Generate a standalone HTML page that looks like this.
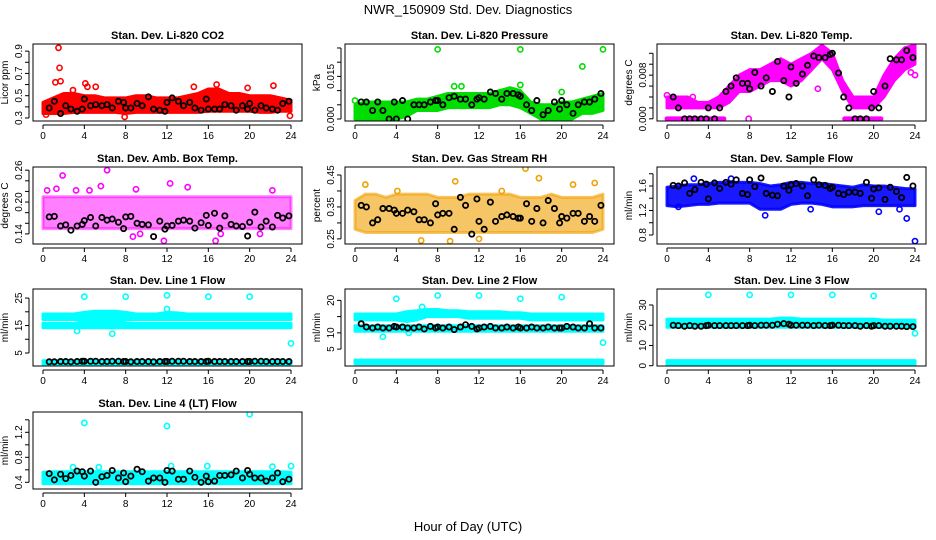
<!DOCTYPE html>
<html><head><meta charset="utf-8"><style>
body{margin:0;background:#fff;}
svg{display:block;font-family:"Liberation Sans",sans-serif;}
</style></head><body>
<svg id="chart" width="936" height="540" viewBox="0 0 936 540" xmlns="http://www.w3.org/2000/svg">
<rect width="936" height="540" fill="#fff"/>
<text x="468" y="14" text-anchor="middle" font-size="13">NWR_150909  Std. Dev. Diagnostics</text>
<text x="468" y="531" text-anchor="middle" font-size="13">Hour of Day (UTC)</text>
</svg>
<script>
const blackTimes=[0.6,1.1,1.7,2.2,2.7,3.3,3.8,4.0,4.6,5.1,5.7,6.2,6.7,7.3,7.8,8.0,8.5,9.1,9.6,10.2,10.7,11.3,11.8,12.0,12.5,13.1,13.6,14.2,14.7,15.3,15.8,16.0,16.6,17.1,17.6,18.2,18.7,19.3,19.8,20.0,20.5,21.1,21.6,22.2,22.7,23.2,23.8];
const xTicks=[0,4,8,12,16,20,24];

const co2Lo=[0.34,0.34,0.34,0.35,0.35,0.35,0.35,0.35,0.34,0.35,0.35,0.35,0.35,0.35,0.35,0.35,0.36,0.36,0.36,0.36,0.36,0.35,0.35,0.36,0.36];
const co2Hi=[0.44,0.48,0.52,0.52,0.50,0.50,0.48,0.48,0.48,0.50,0.50,0.48,0.48,0.48,0.50,0.52,0.56,0.56,0.52,0.52,0.50,0.50,0.50,0.48,0.46];
const co2Out=[[1.5,0.93],[1.6,0.75],[1.7,0.63],[1.2,0.62],[4.1,0.61],[4.3,0.58],[5.1,0.58],[14.6,0.58],[16.8,0.60],[22.3,0.59],[7.9,0.31],[23.9,0.32],[2.9,0.55],[19.8,0.57],[0.3,0.33]];
const co2Black=[0.39,0.45,0.34,0.41,0.38,0.36,0.38,0.47,0.41,0.42,0.41,0.42,0.39,0.45,0.44,0.39,0.39,0.43,0.41,0.49,0.38,0.37,0.36,0.44,0.48,0.45,0.41,0.44,0.39,0.37,0.47,0.38,0.38,0.38,0.42,0.41,0.37,0.41,0.38,0.43,0.37,0.41,0.39,0.38,0.37,0.43,0.45];
const prLo=[0,0,0,0,0,0.001,0.003,0.003,0.003,0.004,0.004,0.004,0.004,0.004,0.005,0.005,0.004,0.002,0,0,0,0,0.002,0.002,0.003];
const prHi=[0.005,0.006,0.006,0.006,0.006,0.006,0.007,0.007,0.008,0.009,0.009,0.009,0.009,0.009,0.010,0.011,0.010,0.006,0.005,0.005,0.006,0.006,0.007,0.008,0.009];
const prOut=[[8,0.0245],[16,0.0245],[24,0.0245],[22,0.0185],[16,0.012],[9.6,0.0115],[10.3,0.0115],[20,0.0095],[0,0.0065]];
const prBlack=[0.006,0.006,0.003,0.006,0.003,0,0.006,0,0.0065,0,0.005,0.005,0.005,0.006,0.0065,0.0065,0.005,0.0075,0.008,0.007,0.007,0.005,0.007,0.0075,0.007,0.0095,0.009,0.007,0.009,0.009,0.0085,0.008,0.005,0.003,0.0065,0.0015,0.003,0.006,0.0035,0.0065,0.005,0.002,0.005,0.006,0.006,0.007,0.009];
const tLo=[0.002,0.002,0.002,0.002,0.002,0.002,0.003,0.005,0.005,0.006,0.007,0.007,0.006,0.007,0.009,0.011,0.009,0.005,0.002,0.002,0.002,0.004,0.007,0.009,0.010];
const tHi=[0.004,0.004,0.004,0.003,0.003,0.004,0.006,0.008,0.009,0.009,0.010,0.011,0.010,0.011,0.012,0.0135,0.012,0.007,0.004,0.004,0.004,0.008,0.011,0.013,0.0135];
const tZeroSeg=[[0,5.5],[17.2,20.7]];
const tOut=[[0,0.0043],[2.5,0.004],[7.9,0],[14.6,0.0055],[23.6,0.0085],[24,0.008]];
const tBlack=[0.004,0.002,0,0,0,0,0,0.002,0,0.002,0.005,0.006,0.0075,0.0065,0.0065,0.0055,0.0085,0.006,0.0075,0.005,0.0105,0.007,0.004,0.0095,0.0065,0.0082,0.0098,0.0115,0.0112,0.0112,0.0118,0.0120,0.0084,0.004,0.002,0,0,0,0.002,0.005,0.002,0.006,0.011,0.0108,0.0108,0.0125,0.0112];
const abLo=[0.15,0.15,0.15,0.15,0.15,0.15,0.15,0.15,0.15,0.15,0.15,0.15,0.15,0.15,0.15,0.15,0.15,0.15,0.15,0.15,0.15,0.15,0.15,0.15,0.15];
const abHi=[0.21,0.21,0.21,0.21,0.21,0.21,0.21,0.21,0.21,0.21,0.21,0.21,0.21,0.21,0.21,0.21,0.21,0.21,0.21,0.21,0.21,0.21,0.21,0.21,0.21];
const abOut=[[1.9,0.25],[6.2,0.26],[12.3,0.235],[5.6,0.23],[14,0.228],[8.7,0.135],[9.4,0.14],[11.7,0.127],[16.7,0.127],[17.2,0.14],[21,0.14],[22.2,0.222],[0.4,0.222],[3.2,0.222],[1.3,0.225],[4.5,0.222],[9,0.224]];
const abBlack=[0.172,0.173,0.155,0.157,0.147,0.155,0.158,0.165,0.171,0.155,0.171,0.166,0.168,0.162,0.150,0.172,0.173,0.160,0.158,0.157,0.135,0.164,0.149,0.155,0.156,0.164,0.166,0.164,0.151,0.161,0.175,0.156,0.179,0.151,0.174,0.158,0.155,0.154,0.136,0.162,0.181,0.153,0.164,0.153,0.175,0.170,0.174];
const rhLo=[0.28,0.27,0.27,0.27,0.27,0.27,0.27,0.27,0.27,0.27,0.27,0.27,0.27,0.27,0.27,0.27,0.27,0.27,0.27,0.27,0.27,0.27,0.27,0.27,0.28];
const rhHi=[0.37,0.39,0.39,0.38,0.39,0.39,0.39,0.39,0.38,0.38,0.38,0.39,0.39,0.39,0.39,0.39,0.38,0.38,0.38,0.39,0.38,0.38,0.38,0.38,0.39];
const rhOut=[[1.0,0.42],[9.7,0.43],[16.5,0.47],[17.8,0.44],[21.1,0.42],[23.2,0.425],[6.4,0.245],[9.2,0.243],[12,0.25],[4.1,0.40],[14.2,0.40]];
const rhBlack=[0.355,0.35,0.30,0.31,0.345,0.345,0.34,0.33,0.33,0.34,0.335,0.31,0.31,0.30,0.36,0.325,0.33,0.33,0.28,0.38,0.355,0.265,0.375,0.305,0.28,0.365,0.305,0.32,0.325,0.32,0.315,0.315,0.36,0.305,0.345,0.30,0.37,0.345,0.30,0.32,0.315,0.33,0.33,0.305,0.32,0.305,0.355];
const sfLo=[1.28,1.26,1.28,1.30,1.30,1.32,1.32,1.32,1.32,1.22,1.22,1.22,1.30,1.32,1.32,1.30,1.26,1.26,1.26,1.28,1.28,1.28,1.28,1.28,1.28];
const sfHi=[1.58,1.60,1.62,1.62,1.64,1.66,1.66,1.66,1.66,1.64,1.60,1.62,1.66,1.66,1.64,1.64,1.62,1.60,1.58,1.62,1.60,1.60,1.58,1.56,1.55];
const sfOut=[[9.5,1.12],[23.2,1.07],[24,0.70],[2.6,1.72],[6.2,1.72],[20.5,1.18],[13.9,1.22],[22.5,1.22],[1.1,1.26]];
const sfBlack=[1.61,1.60,1.65,1.48,1.54,1.66,1.63,1.39,1.65,1.56,1.66,1.63,1.70,1.48,1.46,1.70,1.59,1.73,1.48,1.45,1.44,1.60,1.53,1.62,1.64,1.60,1.44,1.70,1.62,1.61,1.56,1.58,1.48,1.46,1.50,1.50,1.48,1.66,1.40,1.55,1.57,1.38,1.58,1.51,1.41,1.74,1.60];
const l1aLo=[14.2,14.2,14.2,14.2,14.2,14.2,14.2,14.2,14.2,14.2,14.2,14.2,14.2,14.2,14.2,14.2,14.2,14.2,14.2,14.2,14.2,14.2,14.2,14.2,14.2];
const l1aHi=[15.8,15.8,15.8,15.8,16,16,16.2,16.5,16,15.8,15.8,15.8,15.8,15.8,15.8,15.8,15.8,15.8,15.8,15.8,15.8,15.8,15.8,15.8,15.8];
const l1bLo=[17.2,17.2,17.2,17.2,16.8,16.8,17.2,17.2,17.2,17.2,17.2,17.2,17.2,17.2,17.2,17.2,17.2,17.2,17.2,17.2,17.2,17.2,17.2,17.2,17.2];
const l1bHi=[19.2,19.2,19.2,19.2,19.8,20.2,20.2,20.2,19.8,19.2,19.2,19.2,19.8,19.6,19.2,19.2,19.2,19.2,19.2,19.2,19.2,19.2,19.2,19.2,19.2];
const l1cLo=[1,1,1,1,1,1,1,1,1,1,1,1,1,1,1,1,1,1,1,1,1,1,1,1,1];
const l1cHi=[2.2,2.2,2.2,2.2,2.2,2.2,2.2,2.2,2.2,2.2,2.2,2.2,2.2,2.2,2.2,2.2,2.2,2.2,2.2,2.2,2.2,2.2,2.2,2.2,2.2];
const l1Out=[[4,25.5],[8,25.5],[12,26],[16,25.5],[20,25.5],[24,8.5],[6.7,12],[3.3,13],[12,21]];
const l1Black=[1.8,1.8,1.9,1.9,1.8,1.9,2.0,2.0,2.0,2.0,1.9,1.9,2.0,2.0,1.9,1.9,1.8,1.9,1.9,1.9,1.8,1.9,1.9,1.9,2.0,2.0,2.0,1.9,1.9,1.9,1.9,2.0,1.9,1.9,1.9,1.9,1.9,1.9,1.9,1.9,2.0,2.0,1.9,1.9,1.9,1.9,1.9];
const l2aLo=[14,14,14,14,14,13.5,14,15,15,15,15,14.5,14.5,14.5,14.5,14.5,14.5,14,14,14,14,14,14,14,14];
const l2aHi=[15.8,15.8,15.8,15.8,15.8,16.5,16.8,17.2,17.2,16.8,16.8,16.5,16.5,16.5,16.5,16.2,16.2,15.8,15.8,15.8,15.8,15.8,15.8,15.8,15.8];
const l2bLo=[10.5,10.5,10.5,10.5,10.5,10.5,10.5,10.5,10.5,10.5,10.5,10.5,10.5,10.5,10.5,10.5,10.5,10.5,10.5,10.5,10.5,10.5,10.5,10.5,10.5];
const l2bHi=[12.2,12.2,12.2,12.2,12.2,12.2,12.2,12.2,12.2,12.2,12.2,12.2,12.2,12.2,12.2,12.2,12.2,12.2,12.2,12.2,12.2,12.2,12.2,12.2,12.2];
const l2cLo=[0.5,0.5,0.5,0.5,0.5,0.5,0.5,0.5,0.5,0.5,0.5,0.5,0.5,0.5,0.5,0.5,0.5,0.5,0.5,0.5,0.5,0.5,0.5,0.5,0.5];
const l2cHi=[1.6,1.6,1.6,1.6,1.6,1.6,1.6,1.6,1.6,1.6,1.6,1.6,1.6,1.6,1.6,1.6,1.6,1.6,1.6,1.6,1.6,1.6,1.6,1.6,1.6];
const l2Out=[[4,20.5],[8,21.5],[12,21.5],[16,20.5],[20,21],[24,7],[2.7,8.8],[5.2,10],[6.5,18]];
const l2Black=[12.8,11.8,11.5,11.8,11.5,11.5,12,11.8,11.8,11.5,11.5,11.8,11.2,12,11.5,11.8,11.5,11.8,11,11.8,12.5,12,11.2,11.5,11.8,12,11.5,11.5,11.8,11.5,11.8,11.5,11.5,11.8,11.5,11.5,11.8,11.5,11.5,11.5,12,11.8,11.5,11.5,12.8,11.5,11.5];
const l3aLo=[19,19,19,19,19,19,19,19,19,19,19,19,19,19,19,19,19,19,19,19,19,19,19,19,19];
const l3aHi=[23,23,23,23,23,23,23,23,23,23,23,23.5,23.5,23,23,23,23,23,23,23,23,22.5,22.5,22.5,22.5];
const l3cLo=[0.5,0.5,0.5,0.5,0.5,0.5,0.5,0.5,0.5,0.5,0.5,0.5,0.5,0.5,0.5,0.5,0.5,0.5,0.5,0.5,0.5,0.5,0.5,0.5,0.5];
const l3cHi=[2.5,2.5,2.5,2.5,2.5,2.5,2.5,2.5,2.5,2.5,2.5,2.5,2.5,2.5,2.5,2.5,2.5,2.5,2.5,2.5,2.5,2.5,2.5,2.5,2.5];
const l3Out=[[4,35],[8,35],[12,35],[16,35],[20,34.5],[24,16]];
const l3Black=[20,19.8,19.5,19.8,19.5,19.5,19.8,20,19.8,19.8,19.8,19.8,19.8,19.8,19.8,20,19.8,20,20,20,20.5,20.8,20.5,20,20,20,20,19.8,20,19.8,19.8,20,20,19.8,19.8,19.8,19.5,19.8,19.5,19.8,19.8,19.5,19.5,19.5,19.5,19.3,19.3];
const l4Lo=[0.38,0.38,0.38,0.38,0.38,0.38,0.38,0.38,0.38,0.38,0.38,0.38,0.38,0.38,0.38,0.38,0.38,0.38,0.38,0.38,0.38,0.38,0.38,0.38,0.38];
const l4Hi=[0.56,0.57,0.57,0.57,0.57,0.57,0.57,0.57,0.57,0.57,0.57,0.57,0.57,0.57,0.57,0.57,0.57,0.57,0.57,0.57,0.57,0.57,0.57,0.57,0.56];
const l4Out=[[4,1.35],[12,1.30],[20,1.49],[24,0.66],[12.4,0.66],[2.9,0.64],[5.4,0.64],[15.9,0.66],[22.2,0.65]];
const l4Black=[0.54,0.44,0.53,0.46,0.51,0.58,0.57,0.50,0.58,0.40,0.49,0.51,0.59,0.47,0.55,0.41,0.50,0.61,0.57,0.42,0.47,0.47,0.40,0.59,0.58,0.45,0.45,0.58,0.48,0.40,0.50,0.41,0.42,0.51,0.51,0.52,0.58,0.47,0.59,0.53,0.47,0.47,0.42,0.47,0.55,0.41,0.45];

const hours=[0,1,2,3,4,5,6,7,8,9,10,11,12,13,14,15,16,17,18,19,20,21,22,23,24];
const panels=[
 {name:'co2',title:'Stan. Dev. Li-820 CO2',ylab:'Licor ppm',col:0,row:0,ylo:0.273,yhi:0.964,ticks:[0.3,0.4,0.5,0.6,0.7,0.8,0.9],labels:['0.3','','0.5','','0.7','','0.9'],color:'#ff0000',bands:[[co2Lo,co2Hi]],out:co2Out,black:co2Black},
 {name:'pressure',title:'Stan. Dev. Li-820 Pressure',ylab:'kPa',col:1,row:0,ylo:-0.0007,yhi:0.0264,ticks:[0,0.005,0.01,0.015,0.02,0.025],labels:['0.000','','','0.015','',''],color:'#00dd00',bands:[[prLo,prHi]],out:prOut,black:prBlack},
 {name:'li820-temp',title:'Stan. Dev. Li-820 Temp.',ylab:'degrees C',col:2,row:0,ylo:-0.0004,yhi:0.0137,ticks:[0,0.002,0.004,0.006,0.008,0.01,0.012],labels:['0.000','','','','0.008','',''],color:'#ff00ff',bands:[[tLo,tHi]],seg:tZeroSeg,out:tOut,black:tBlack},
 {name:'amb-box-temp',title:'Stan. Dev. Amb. Box Temp.',ylab:'degrees C',col:0,row:1,ylo:0.121,yhi:0.266,ticks:[0.14,0.16,0.18,0.2,0.22,0.24,0.26],labels:['0.14','','','0.20','','','0.26'],color:'#ff00ff',op:0.5,bands:[[abLo,abHi]],out:abOut,black:abBlack},
 {name:'gas-rh',title:'Stan. Dev. Gas Stream RH',ylab:'percent',col:1,row:1,ylo:0.234,yhi:0.475,ticks:[0.25,0.3,0.35,0.4,0.45],labels:['0.25','','0.35','','0.45'],color:'#f0a000',op:0.6,bands:[[rhLo,rhHi]],out:rhOut,black:rhBlack},
 {name:'sample-flow',title:'Stan. Dev. Sample Flow',ylab:'ml/min',col:2,row:1,ylo:0.653,yhi:1.91,ticks:[0.8,1.0,1.2,1.4,1.6,1.8],labels:['0.8','','1.2','','1.6',''],color:'#0000ff',op:0.9,bands:[[sfLo,sfHi]],out:sfOut,black:sfBlack},
 {name:'line1-flow',title:'Stan. Dev. Line 1 Flow',ylab:'ml/min',col:0,row:2,ylo:0.27,yhi:28.3,ticks:[5,10,15,20,25],labels:['5','','15','','25'],color:'#00ffff',bands:[[l1aLo,l1aHi],[l1bLo,l1bHi],[l1cLo,l1cHi]],out:l1Out,black:l1Black},
 {name:'line2-flow',title:'Stan. Dev. Line 2 Flow',ylab:'ml/min',col:1,row:2,ylo:-0.2,yhi:23.5,ticks:[5,10,15,20],labels:['5','10','','20'],color:'#00ffff',bands:[[l2aLo,l2aHi],[l2bLo,l2bHi],[l2cLo,l2cHi]],out:l2Out,black:l2Black},
 {name:'line3-flow',title:'Stan. Dev. Line 3 Flow',ylab:'ml/min',col:2,row:2,ylo:-0.15,yhi:37.9,ticks:[0,10,20,30],labels:['0','10','20','30'],color:'#00ffff',bands:[[l3aLo,l3aHi],[l3cLo,l3cHi]],out:l3Out,black:l3Black},
 {name:'line4-flow',title:'Stan. Dev. Line 4 (LT) Flow',ylab:'ml/min',col:0,row:3,ylo:0.293,yhi:1.525,ticks:[0.4,0.6,0.8,1.0,1.2,1.4],labels:['0.4','','0.8','','1.2',''],color:'#00ffff',bands:[[l4Lo,l4Hi]],out:l4Out,black:l4Black}
];
const NS='http://www.w3.org/2000/svg';
const svg=document.getElementById('chart');
function mk(tag,attrs,parent){const e=document.createElementNS(NS,tag);for(const k in attrs)e.setAttribute(k,attrs[k]);parent.appendChild(e);return e;}
const colL=[33,345,657],rowT=[44,167,289,412],W=269,H=77;
panels.forEach(p=>{
  const L=colL[p.col],T=rowT[p.row];
  const g=mk('g',{},svg);
  
  
  const xs=h=>L+10+h*(W-21)/24;
  const ys=v=>T+H-(v-p.ylo)/(p.yhi-p.ylo)*H;
  const cp='clip-'+p.name;
  const cl=mk('clipPath',{id:cp},g);mk('rect',{x:L,y:T,width:W,height:H},cl);
  const pg=mk('g',{'clip-path':'url(#'+cp+')'},g);
  const op=p.op||1;
  p.bands.forEach((b,bi)=>{
    const lo=b[0],hi=b[1];
    let pts=hours.map((h,i)=>xs(h)+','+ys(hi[i]));
    pts=pts.concat(hours.slice().reverse().map((h,j)=>xs(h)+','+ys(lo[24-j])));
    const poly=mk('polygon',{points:pts.join(' '),fill:p.color,'fill-opacity':op,stroke:p.color,'stroke-width':3,'stroke-linejoin':'round','stroke-opacity':op},pg);
    
    
  });
  (p.seg||[]).forEach(s=>{
    const ln=mk('line',{x1:xs(s[0]),x2:xs(s[1]),y1:ys(0),y2:ys(0),stroke:p.color,'stroke-width':5,'stroke-linecap':'round'},pg);
    
    
  });
  p.out.forEach(o=>{
    const c=mk('circle',{cx:xs(o[0]),cy:ys(o[1]),r:2.6,fill:'none',stroke:p.color,'stroke-width':1.6},pg);
    
    
  });
  p.black.forEach((v,i)=>{
    const c=mk('circle',{cx:xs(blackTimes[i]),cy:ys(v),r:2.6,fill:'none',stroke:'#000','stroke-width':1.8},pg);
    
    
  });
  const box=mk('rect',{x:L,y:T,width:W,height:H,fill:'none',stroke:'#000','stroke-width':1},g);
  
  
  const t=mk('text',{x:L+W/2,y:T-5,'text-anchor':'middle','font-size':11,'font-weight':'bold'},g);
  t.textContent=p.title;
  
  
  const ax=T+H+4;
  xTicks.forEach(h=>{
    mk('line',{x1:xs(h),x2:xs(h),y1:ax,y2:ax+4,stroke:'#000'},g);
    const tx=mk('text',{x:xs(h),y:ax+14,'text-anchor':'middle','font-size':10},g);
    tx.textContent=h;
    
    
  });
  mk('line',{x1:xs(0),x2:xs(24),y1:ax,y2:ax,stroke:'#000'},g);
  const y0=ys(p.ticks[0]),y1=ys(p.ticks[p.ticks.length-1]);
  mk('line',{x1:L-4,x2:L-4,y1:y0,y2:y1,stroke:'#000'},g);
  p.ticks.forEach((v,i)=>{
    mk('line',{x1:L-8,x2:L-4,y1:ys(v),y2:ys(v),stroke:'#000'},g);
    if(p.labels[i]){
      const ty=mk('text',{x:0,y:0,'text-anchor':'middle','font-size':10,transform:'translate('+(L-11)+','+ys(v)+') rotate(-90)'},g);
      ty.textContent=p.labels[i];
      
      
    }
  });
  const yl=mk('text',{x:0,y:0,'text-anchor':'middle','font-size':10,transform:'translate('+(L-25)+','+(T+H/2)+') rotate(-90)'},g);
  yl.textContent=p.ylab;
  
  
});
</script>
</body></html>
